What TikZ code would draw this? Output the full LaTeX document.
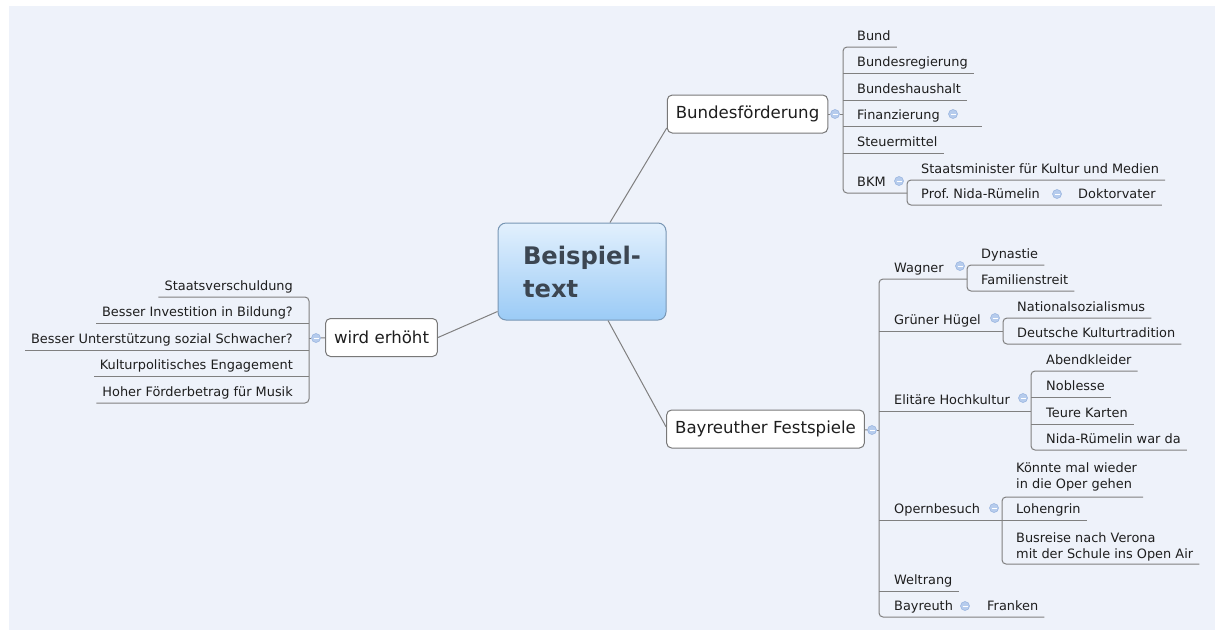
\documentclass[tikz,border=0pt]{standalone}
\usepackage{fontspec}
\setmainfont{DejaVu Sans}
\definecolor{bgblue}{RGB}{238,242,250}
\definecolor{linegray}{RGB}{128,128,128}
\definecolor{boxgray}{RGB}{120,120,120}
\definecolor{txtgray}{RGB}{30,30,30}
\definecolor{ctrtop}{RGB}{226,240,253}
\definecolor{ctrbot}{RGB}{155,203,246}
\definecolor{ctrline}{RGB}{120,150,180}
\definecolor{ctrtext}{RGB}{60,70,82}
\definecolor{expfill}{RGB}{182,204,237}
\definecolor{expline}{RGB}{150,178,222}
\tikzset{
  branch/.style={draw=linegray, line width=1pt},
  leaf/.style={anchor=south west, inner xsep=0pt, inner ysep=3pt, text height=10pt, text depth=3pt,
    text=txtgray, font=\fontsize{12.9}{16}\selectfont},
  leafr/.style={leaf, anchor=south east},
  leafm/.style={anchor=south west, inner xsep=0pt, inner ysep=3pt, align=left,
    text=txtgray, font=\fontsize{12.9}{16}\selectfont},
  topic/.style={draw=boxgray, fill=white, rounded corners=5pt, line width=1pt, inner xsep=8.5pt,
    minimum height=38pt, text=txtgray, font=\fontsize{16.6}{20}\selectfont},
  ctrbox/.style={draw=ctrline, top color=ctrtop, bottom color=ctrbot, rounded corners=8pt, line width=1pt,
    minimum width=168pt, minimum height=97pt, align=left, text=ctrtext,
    font=\fontsize{24.2}{33}\selectfont\bfseries},
  expander/.style={circle, minimum size=9pt, inner sep=0pt, fill=expfill, draw=expline, line width=0.5pt,
    path picture={\draw[white, line width=1pt] ([xshift=-2.5pt]path picture bounding box.center)
      -- ([xshift=2.5pt]path picture bounding box.center);}}
}
\begin{document}
\begin{tikzpicture}[x=1pt,y=-1pt]
\useasboundingbox (0,0) rectangle (1215,630);
\fill[white] (0,0) rectangle (1215,630);
\fill[bgblue] (9,6) rectangle (1215,630);

\node[ctrbox] (ctr) at (582,271.5) {Beispiel-\\text};
\node[topic] (bf) at (747.5,114) {Bundesförderung};
\node[topic] (bfs) at (765.5,429) {Bayreuther Festspiele};
\node[topic] (we) at (381.5,337.5) {wird erhöht};
\node[expander] (bfx) at (835,114) {};
\node[expander] (bfsx) at (872,430) {};
\node[expander] (wex) at (316,338) {};

\coordinate (bfb) at (843,114);
\coordinate (bkmb) at (907,193);
\coordinate (bfsb) at (879,430);
\coordinate (wagb) at (967,279);
\coordinate (ghb) at (1003,331);
\coordinate (ehb) at (1031,411);
\coordinate (opb) at (1002,520);
\coordinate (web) at (309,338);

\node[leaf] (bund) at (857,47) {Bund};
\node[leaf] (breg) at (857,73) {Bundesregierung};
\node[leaf] (bhh) at (857,100) {Bundeshaushalt};
\node[leaf] (fin) at (857,126) {Finanzierung};
\node[expander] (finx) at (953,114) {};
\node[leaf] (steu) at (857,153) {Steuermittel};
\node[leaf] (bkm) at (857,193) {BKM};
\node[expander] (bkmx) at (899,181) {};
\node[leaf] (stm) at (921,180) {Staatsminister für Kultur und Medien};
\node[leaf] (prof) at (921,205) {Prof.\ Nida-Rümelin};
\node[expander] (profx) at (1057,194) {};
\node[leaf] (dok) at (1078,205) {Doktorvater};

\node[leaf] (wag) at (894,279) {Wagner};
\node[expander] (wagx) at (960,266) {};
\node[leaf] (dyn) at (981,265) {Dynastie};
\node[leaf] (fam) at (981,291) {Familienstreit};
\node[leaf] (gh) at (894,331) {Grüner Hügel};
\node[expander] (ghx) at (995,318) {};
\node[leaf] (ns) at (1017,318) {Nationalsozialismus};
\node[leaf] (dkt) at (1017,344) {Deutsche Kulturtradition};
\node[leaf] (eh) at (894,411) {Elitäre Hochkultur};
\node[expander] (ehx) at (1023,398) {};
\node[leaf] (abend) at (1046,371) {Abendkleider};
\node[leaf] (nob) at (1046,397) {Noblesse};
\node[leaf] (teu) at (1046,424) {Teure Karten};
\node[leaf] (nida) at (1046,450) {Nida-Rümelin war da};
\node[leaf] (op) at (894,520) {Opernbesuch};
\node[expander] (opx) at (994,508) {};
\node[leafm, inner ysep=6pt] (koe) at (1016,497) {Könnte mal wieder\\in die Oper gehen};
\node[leaf] (loh) at (1016,520) {Lohengrin};
\node[leafm] (bus) at (1016,564) {Busreise nach Verona\\mit der Schule ins Open Air};
\node[leaf] (welt) at (894,591) {Weltrang};
\node[leaf] (bay) at (894,617) {Bayreuth};
\node[expander] (bayx) at (965,606) {};
\node[leaf] (fra) at (987,617) {Franken};

\node[leafr] (sta) at (293,297) {Staatsverschuldung};
\node[leafr] (inv) at (293,323) {Besser Investition in Bildung?};
\node[leafr] (unt) at (293,350) {Besser Unterstützung sozial Schwacher?};
\node[leafr] (kul) at (293,376) {Kulturpolitisches Engagement};
\node[leafr] (hoh) at (293,403) {Hoher Förderbetrag für Musik};

\draw[branch] ([xshift=28pt]ctr.north) -- ([yshift=-14pt]bf.west);
\draw[branch] ([xshift=26pt]ctr.south) -- ([yshift=2pt]bfs.west);
\draw[branch] ([yshift=-40pt]ctr.west) -- (we.east);

\draw[branch] (bf) -- (bfx);
\draw[branch] (bfx) -- (bfb);
\draw[branch,rounded corners=4pt] ([xshift=6pt]bund.south east) -| (bfb) |- (bkmb);
\foreach \n in {breg,bhh,steu}
  \draw[branch] (bfb |- \n.south) -- ([xshift=6pt]\n.south east);
\draw[branch] (bfb |- fin.south) -- ([xshift=24pt]finx.east |- fin.south);
\draw[branch,rounded corners=4pt] ([xshift=6pt]stm.south east) -| (bkmb) |- ([xshift=6pt]dok.south east);

\draw[branch] (bfs) -- (bfsx);
\draw[branch] (bfsx) -- (bfsb);
\draw[branch,rounded corners=4pt] (wagb) -| (bfsb) |- ([xshift=6pt]fra.south east);
\foreach \n in {ghb,ehb,opb}
  \draw[branch] (bfsb |- \n) -- (\n);
\draw[branch] (bfsb |- welt.south) -- ([xshift=6pt]welt.south east);
\draw[branch,rounded corners=4pt] ([xshift=6pt]dyn.south east) -| (wagb) |- ([xshift=6pt]fam.south east);
\draw[branch,rounded corners=4pt] ([xshift=6pt]ns.south east) -| (ghb) |- ([xshift=6pt]dkt.south east);
\draw[branch,rounded corners=4pt] ([xshift=6pt]abend.south east) -| (ehb) |- ([xshift=6pt]nida.south east);
\foreach \n in {nob,teu}
  \draw[branch] (ehb |- \n.south) -- ([xshift=6pt]\n.south east);
\draw[branch,rounded corners=4pt] ([xshift=6pt]koe.south east) -| (opb) |- ([xshift=6pt]bus.south east);
\draw[branch] (opb) -- ([xshift=6pt]loh.south east);

\draw[branch] (we) -- (wex);
\draw[branch] (wex) -- (web);
\draw[branch,rounded corners=4pt] ([xshift=-6pt]sta.south west) -| (web) |- ([xshift=-6pt]hoh.south west);
\foreach \n in {inv,unt,kul}
  \draw[branch] (web |- \n.south) -- ([xshift=-6pt]\n.south west);
\end{tikzpicture}
\end{document}
